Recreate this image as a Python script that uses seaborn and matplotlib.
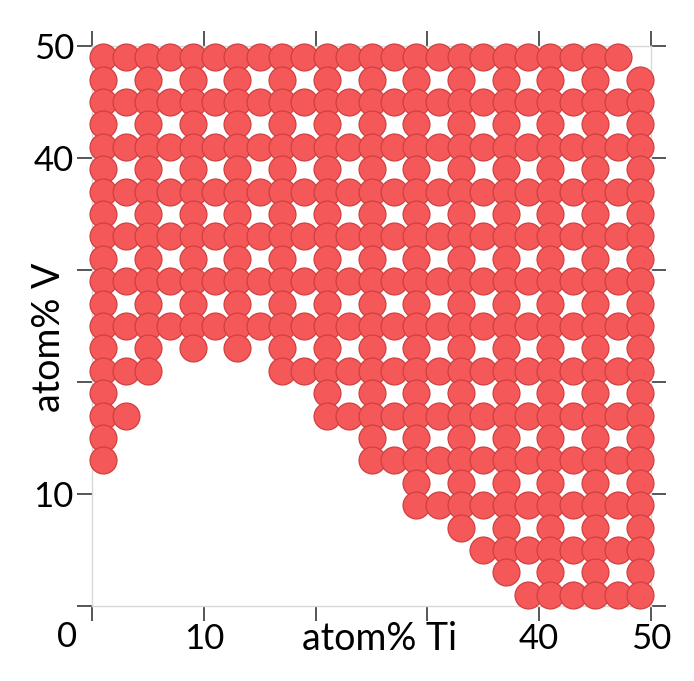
import pandas as pd
import numpy as np
import matplotlib
matplotlib.use('Agg')
import matplotlib.pyplot as plt
import seaborn as sns

# compositions of the library (Ti across, V up)
ti_values = [1, 3, 5, 7, 9, 11, 13, 15, 17, 19, 21, 23, 25, 27, 29, 31, 33, 35, 37, 39, 41, 43, 45, 47, 49]
v_values = [49, 47, 45, 43, 41, 39, 37, 35, 33, 31, 29, 27, 25, 23, 21, 19, 17, 15, 13, 11, 9, 7, 5, 3, 1]

# one string per V row (top to bottom), 'o' = sample present
sample_rows = [
    "oooooooooooooooooooooooo.",
    "o.o.o.o.o.o.o.o.o.o.o.o.o",
    "ooooooooooooooooooooooooo",
    "o.o.o.o.o.o.o.o.o.o.o.o.o",
    "ooooooooooooooooooooooooo",
    "o.o.o.o.o.o.o.o.o.o.o.o.o",
    "ooooooooooooooooooooooooo",
    "o.o.o.o.o.o.o.o.o.o.o.o.o",
    "ooooooooooooooooooooooooo",
    "o.o.o.o.o.o.o.o.o.o.o.o.o",
    "ooooooooooooooooooooooooo",
    "o.o.o.o.o.o.o.o.o.o.o.o.o",
    "ooooooooooooooooooooooooo",
    "o.o.o.o.o.o.o.o.o.o.o.o.o",
    "ooo.....ooooooooooooooooo",
    "o.........o.o.o.o.o.o.o.o",
    "oo........ooooooooooooooo",
    "o...........o.o.o.o.o.o.o",
    "o...........ooooooooooooo",
    "..............o.o.o.o.o.o",
    "..............ooooooooooo",
    "................o.o.o.o.o",
    ".................oooooooo",
    "..................o.o.o.o",
    "...................oooooo",
]

x_ticks = [0, 10, 20, 30, 40, 50]
x_ticklabels = ['', '10', '', '', '40', '50']
y_ticks = [0, 10, 20, 30, 40, 50]
y_ticklabels = ['', '10', '', '', '40', '50']

rows = []
for v, line in zip(v_values, sample_rows):
    for ti, c in zip(ti_values, line):
        if c == 'o':
            rows.append({'ti': ti, 'v': v})
df = pd.DataFrame(rows)

sns.set_style('white')
plt.rcParams['font.family'] = ['Lato', 'DejaVu Sans']

fig = plt.figure(figsize=(6.94, 6.81), dpi=100)
ax = fig.add_axes([0.1326, 0.1101, 0.8055, 0.8224])

sns.scatterplot(x='ti', y='v', data=df, ax=ax, s=375, color='#f45858',
                edgecolor='#d04040', linewidth=0.9, clip_on=False, legend=False, zorder=3)

ax.set_xlim(0, 50)
ax.set_ylim(0, 50)
ax.set_xticks(x_ticks)
ax.set_xticklabels(x_ticklabels)
ax.set_yticks(y_ticks)
ax.set_yticklabels(y_ticklabels)

ax.tick_params(direction='out', length=11, width=1.4, color='#555555', labelsize=25,
               labelcolor='black', bottom=True, left=True, top=True, right=True,
               labeltop=False, labelright=False)
ax.tick_params(axis='x', pad=1)
ax.tick_params(axis='y', pad=2)

# unlabelled ticks are lighter in the original
for i in (2, 3):
    for t in (ax.xaxis.get_major_ticks()[i], ax.yaxis.get_major_ticks()[i]):
        t.tick1line.set_color('#b0b0b0')

for sp in ax.spines.values():
    sp.set_color('#d8d8d8')
    sp.set_linewidth(1)

ax.set_xlabel('atom% Ti', fontsize=27, color='black')
ax.set_ylabel('atom% V', fontsize=27, color='black')
ax.xaxis.set_label_coords(0.515, -0.026)
ax.yaxis.set_label_coords(-0.045, 0.48)
ax.text(-0.045, -0.026, '0', transform=ax.transAxes, ha='center', va='top',
        fontsize=25, color='black')

plt.savefig('out.png', dpi=100)
